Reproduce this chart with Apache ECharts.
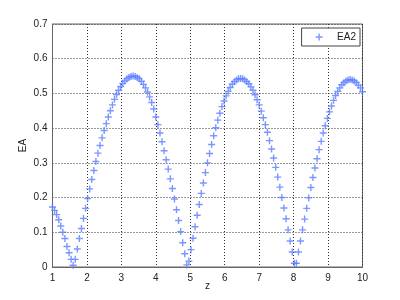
<!DOCTYPE html>
<html>
<head>
<meta charset="utf-8">
<script src="https://cdn.jsdelivr.net/npm/echarts@6/dist/echarts.min.js"></script>
<style>
html,body{margin:0;padding:0;background:#fff;}
#c{width:400px;height:300px;}
</style>
</head>
<body>
<div id="c"></div>
<script>
// x positions (z) of the samples
var zVals = [
1.00,1.06,1.12,1.18,1.24,1.30,1.36,1.42,1.48,1.54,
1.60,1.66,1.72,1.78,1.84,1.90,1.96,2.02,2.08,2.14,
2.20,2.26,2.32,2.38,2.44,2.50,2.56,2.62,2.68,2.74,
2.80,2.86,2.92,2.98,3.04,3.10,3.16,3.22,3.28,3.34,
3.40,3.46,3.52,3.58,3.64,3.70,3.76,3.82,3.88,3.94,
4.00,4.06,4.12,4.18,4.24,4.30,4.36,4.42,4.48,4.54,
4.60,4.66,4.72,4.78,4.84,4.90,4.96,5.02,5.08,5.14,
5.20,5.26,5.32,5.38,5.44,5.50,5.56,5.62,5.68,5.74,
5.80,5.86,5.92,5.98,6.04,6.10,6.16,6.22,6.28,6.34,
6.40,6.46,6.52,6.58,6.64,6.70,6.76,6.82,6.88,6.94,
7.00,7.06,7.12,7.18,7.24,7.30,7.36,7.42,7.48,7.54,
7.60,7.66,7.72,7.78,7.84,7.90,7.96,8.02,8.08,8.14,
8.20,8.26,8.32,8.38,8.44,8.50,8.56,8.62,8.68,8.74,
8.80,8.86,8.92,8.98,9.04,9.10,9.16,9.22,9.28,9.34,
9.40,9.46,9.52,9.58,9.64,9.70,9.76,9.82,9.88,9.94,
10.00
];
// EA2 values
var ea2Vals = [
0.173,0.163,0.151,0.136,0.118,0.100,0.082,0.059,0.041,0.022,
0.005,0.022,0.052,0.082,0.111,0.140,0.169,0.197,0.225,0.252,
0.278,0.304,0.328,0.350,0.372,0.393,0.413,0.432,0.450,0.467,
0.483,0.497,0.509,0.520,0.529,0.536,0.542,0.546,0.549,0.550,
0.549,0.546,0.542,0.535,0.526,0.516,0.504,0.490,0.474,0.455,
0.432,0.410,0.386,0.361,0.335,0.309,0.282,0.254,0.226,0.196,
0.165,0.134,0.102,0.070,0.038,0.006,0.017,0.050,0.083,0.116,
0.149,0.180,0.212,0.242,0.272,0.300,0.327,0.353,0.378,0.401,
0.423,0.443,0.462,0.478,0.493,0.506,0.517,0.527,0.534,0.539,
0.542,0.543,0.542,0.539,0.534,0.528,0.519,0.509,0.496,0.482,
0.467,0.449,0.430,0.410,0.388,0.364,0.340,0.314,0.287,0.259,
0.230,0.200,0.170,0.139,0.107,0.075,0.043,0.011,0.011,0.043,
0.075,0.107,0.138,0.169,0.199,0.229,0.258,0.285,0.312,0.338,
0.362,0.386,0.407,0.428,0.447,0.464,0.480,0.494,0.506,0.516,
0.525,0.531,0.536,0.539,0.540,0.539,0.536,0.531,0.524,0.516,
0.505
];
var xTicks = [1,2,3,4,5,6,7,8,9,10];
var yTicks = [0,0.1,0.2,0.3,0.4,0.5,0.6,0.7];
var seriesName = 'EA2';
var xName = 'z';
var yName = 'EA';

var pts = zVals.map(function(z,i){ return [z, ea2Vals[i]]; });
var plus = 'path://M-0.2,-1H0.2V-0.2H1V0.2H0.2V1H-0.2V0.2H-1V-0.2H-0.2Z';
var FONT = 'Liberation Sans, Arial, sans-serif';

var chart = echarts.init(document.getElementById('c'), null, {renderer:'canvas'});
chart.setOption({
  animation:false,
  backgroundColor:'#ffffff',
  grid:{left:52.5,right:37.5,top:24,bottom:33,show:true,borderColor:'#666',borderWidth:1,backgroundColor:'transparent'},
  legend:{
    data:[{name:seriesName,icon:plus}],
    right:40, top:28,
    orient:'vertical',
    borderColor:'#444', borderWidth:1, backgroundColor:'#fff',
    padding:[4,4,4,14], itemWidth:26, itemHeight:7,
    textStyle:{fontFamily:FONT,fontSize:10,color:'#222'}
  },
  xAxis:{
    type:'value', min:xTicks[0], max:xTicks[xTicks.length-1], interval:1,
    name:xName, nameLocation:'middle', nameGap:14, nameMoveOverlap:false,
    nameTextStyle:{fontFamily:FONT,fontSize:10,color:'#222'},
    axisLine:{show:true,lineStyle:{color:'#666',width:1}},
    axisTick:{show:false},
    axisLabel:{fontFamily:FONT,fontSize:10,color:'#222',margin:6},
    splitLine:{show:true,lineStyle:{color:'#333',type:[1,2],width:1}}
  },
  yAxis:{
    type:'value', min:yTicks[0], max:yTicks[yTicks.length-1], interval:0.1,
    name:yName, nameLocation:'middle', nameGap:24, nameRotate:90, nameMoveOverlap:false,
    nameTextStyle:{fontFamily:FONT,fontSize:10,color:'#222'},
    axisLine:{show:true,lineStyle:{color:'#666',width:1}},
    axisTick:{show:false},
    axisLabel:{fontFamily:FONT,fontSize:10,color:'#222',margin:5},
    splitLine:{show:true,lineStyle:{color:'#333',type:[1,2],width:1}}
  },
  series:[{
    name:seriesName, type:'scatter', data:pts,
    symbol:plus, symbolSize:7,
    itemStyle:{color:'#5a7dff'},
    clip:false
  }]
});
</script>
</body>
</html>
